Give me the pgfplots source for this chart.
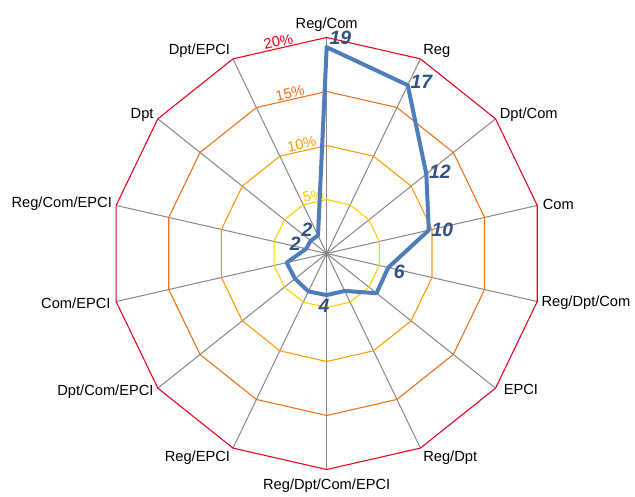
\documentclass[border=0pt]{standalone}
\usepackage{pgfplots}
\usepackage{pgfplotstable}
\pgfplotsset{compat=1.18}
\usepackage{fontspec}
\setmainfont{Liberation Sans}
\definecolor{ringA}{RGB}{255,204,0}
\definecolor{ringB}{RGB}{255,153,0}
\definecolor{ringC}{RGB}{240,110,20}
\definecolor{ringD}{RGB}{230,0,30}
\definecolor{spoke}{RGB}{134,134,134}
\definecolor{dataline}{RGB}{79,125,185}
\definecolor{valtext}{RGB}{47,82,130}

\pgfplotstableread[col sep=comma]{
ang,r
90,19.1
64.2857,17.3
38.5714,11.8
12.8571,9.7
-12.8571,5.85
-38.5714,5.9
-64.2857,3.85
-90,3.85
-115.714,3.9
-141.429,3.75
-167.143,3.8
167.143,1.95
141.429,1.9
115.714,1.85
90,19.1
}\shares

% value label: angle, share, text, anchor, extra options
\newcommand{\vlab}[5]{%
  \addplot[draw=none, data cs=polar, nodes near coords={#3},
    every node near coord/.append style={anchor=#4, text=valtext, inner sep=2pt,
      font=\fontsize{14.5}{16}\selectfont\bfseries\itshape, #5}]
    coordinates {(#1,#2)};}

\begin{document}
\begin{tikzpicture}[catlab/.style={inner sep=3pt, font=\fontsize{11}{13}\selectfont}]
\begin{axis}[
  scale only axis,
  width=476.25pt, height=371.25pt,
  xmin=-30.25, xmax=28.55, ymin=-22.36, ymax=23.47,
  hide axis, clip=false,
]
\draw[draw=none] (rel axis cs:0,0) rectangle (rel axis cs:1,1);
% spokes
\pgfplotsinvokeforeach{90,64.2857,38.5714,12.8571,-12.8571,-38.5714,-64.2857,-90,-115.714,-141.429,-167.143,167.143,141.429,115.714}{
  \addplot[spoke, line width=0.75pt, data cs=polar] coordinates {(#1,0) (#1,20)};
}
% rings
\addplot[ringA, line width=0.8pt, data cs=polar] coordinates {(90,5) (64.2857,5) (38.5714,5) (12.8571,5) (-12.8571,5) (-38.5714,5) (-64.2857,5) (-90,5) (-115.714,5) (-141.429,5) (-167.143,5) (167.143,5) (141.429,5) (115.714,5) (90,5)};
\addplot[ringB, line width=0.8pt, data cs=polar] coordinates {(90,10) (64.2857,10) (38.5714,10) (12.8571,10) (-12.8571,10) (-38.5714,10) (-64.2857,10) (-90,10) (-115.714,10) (-141.429,10) (-167.143,10) (167.143,10) (141.429,10) (115.714,10) (90,10)};
\addplot[ringC, line width=0.8pt, data cs=polar] coordinates {(90,15) (64.2857,15) (38.5714,15) (12.8571,15) (-12.8571,15) (-38.5714,15) (-64.2857,15) (-90,15) (-115.714,15) (-141.429,15) (-167.143,15) (167.143,15) (141.429,15) (115.714,15) (90,15)};
\addplot[ringD, line width=0.8pt, data cs=polar] coordinates {(90,20) (64.2857,20) (38.5714,20) (12.8571,20) (-12.8571,20) (-38.5714,20) (-64.2857,20) (-90,20) (-115.714,20) (-141.429,20) (-167.143,20) (167.143,20) (141.429,20) (115.714,20) (90,20)};
% ring labels
\node[ringA, anchor=south, rotate=12.857, inner sep=1pt, font=\fontsize{11}{13}\selectfont] at (axis cs:-1.085,4.752) {5\%};
\node[ringB, anchor=south, rotate=12.857, inner sep=1pt, font=\fontsize{11}{13}\selectfont] at (axis cs:-2.169,9.505) {10\%};
\node[ringC, anchor=south, rotate=12.857, inner sep=1pt, font=\fontsize{11}{13}\selectfont] at (axis cs:-3.254,14.257) {15\%};
\node[ringD, anchor=south, rotate=12.857, inner sep=1pt, font=\fontsize{11}{13}\selectfont] at (axis cs:-4.339,19.01) {20\%};
% data
\addplot[dataline, line width=3pt, line join=round, line cap=round, data cs=polar] table[x=ang, y=r] {\shares};
% value labels
\vlab{90}{19.1}{19}{south west}{}
\vlab{64.2857}{17.3}{17}{195}{}
\vlab{38.5714}{11.8}{12}{190}{}
\vlab{12.8571}{9.7}{10}{west}{}
\vlab{-12.8571}{5.85}{6}{west}{xshift=2pt, yshift=-3pt}
\vlab{-90}{3.85}{4}{north}{xshift=-2pt, yshift=-1pt}
\vlab{115.714}{1.85}{2}{east}{xshift=-2pt, yshift=4pt}
\vlab{167.143}{1.95}{2}{east}{xshift=-2pt, yshift=4pt}
% category labels
\node[catlab, anchor=south, yshift=1pt] at (axis cs:0,20) {Reg/Com};
\node[catlab, anchor=south west, xshift=-1pt, yshift=-2pt] at (axis cs:8.678,18.019) {Reg};
\node[catlab, anchor=base west] at (axis cs:15.637,12.470) {Dpt/Com};
\node[catlab, anchor=west, xshift=1pt, yshift=1pt] at (axis cs:19.499,4.450) {Com};
\node[catlab, anchor=west, yshift=-1pt] at (axis cs:19.499,-4.450) {Reg/Dpt/Com};
\node[catlab, anchor=west, xshift=3pt, yshift=-1pt] at (axis cs:15.637,-12.470) {EPCI};
\node[catlab, anchor=north west, xshift=-1pt, yshift=1pt] at (axis cs:8.678,-18.019) {Reg/Dpt};
\node[catlab, anchor=north, yshift=-4pt] at (axis cs:0,-20) {Reg/Dpt/Com/EPCI};
\node[catlab, anchor=north east, xshift=1pt, yshift=1pt] at (axis cs:-8.678,-18.019) {Reg/EPCI};
\node[catlab, anchor=east, yshift=-3pt] at (axis cs:-15.637,-12.470) {Dpt/Com/EPCI};
\node[catlab, anchor=east, xshift=-1pt, yshift=-1pt] at (axis cs:-19.499,-4.450) {Com/EPCI};
\node[catlab, anchor=east, yshift=1pt] at (axis cs:-19.499,4.450) {Reg/Com/EPCI};
\node[catlab, anchor=base east] at (axis cs:-15.637,12.470) {Dpt};
\node[catlab, anchor=south east, xshift=1pt, yshift=-2pt] at (axis cs:-8.678,18.019) {Dpt/EPCI};
\end{axis}
\end{tikzpicture}
\end{document}
